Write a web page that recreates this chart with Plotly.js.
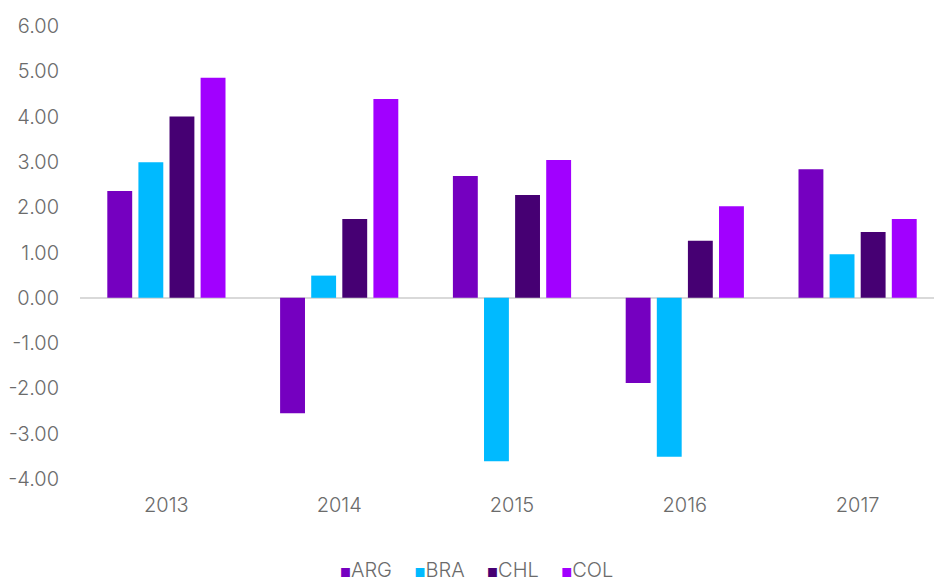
<!DOCTYPE html>
<html>
<head>
<meta charset="utf-8">
<script src="https://cdn.plot.ly/plotly-3.0.1.min.js"></script>
<style>html,body{margin:0;padding:0;overflow:hidden;background:#fff;}</style>
</head>
<body>
<div id="chart"></div>
<script>
const years = ['2013', '2014', '2015', '2016', '2017'];
const ARG = [2.36, -2.55, 2.69, -1.88, 2.84];
const BRA = [2.99, 0.49, -3.61, -3.51, 0.96];
const CHL = [4.00, 1.74, 2.27, 1.26, 1.45];
const COL = [4.86, 4.39, 3.04, 2.02, 1.74];
const tickVals = [-4, -3, -2, -1, 0, 1, 2, 3, 4, 5, 6];
const tickText = ['-4.00', '-3.00', '-2.00', '-1.00', '0.00', '1.00', '2.00', '3.00', '4.00', '5.00', '6.00'];

const series = [
  {name: 'ARG', y: ARG, color: '#7500C0'},
  {name: 'BRA', y: BRA, color: '#00BAFF'},
  {name: 'CHL', y: CHL, color: '#460073'},
  {name: 'COL', y: COL, color: '#A100FF'}
];
const traces = series.map(s => ({
  type: 'bar', name: s.name, x: years, y: s.y,
  marker: {color: s.color, line: {width: 0}},
  showlegend: false
}));
const fontFam = 'Inter, "Open Sans", sans-serif';
const txtColor = '#6b6b6b';
const legendText = series.map(s =>
  '<span style="color:' + s.color + ';font-size:12px">■</span>' + s.name
).join('&nbsp;&nbsp;&nbsp;&nbsp;');

const layout = {
  width: 944, height: 581,
  margin: {l: 80, r: 0, t: 26, b: 102},
  paper_bgcolor: '#ffffff', plot_bgcolor: '#ffffff',
  barmode: 'group', bargap: 0.28, bargroupgap: 0.2,
  font: {family: fontFam, size: 20, color: txtColor, weight: 300},
  xaxis: {
    type: 'category', showgrid: false, showline: false, zeroline: false,
    ticks: 'outside', ticklen: 8, tickcolor: 'rgba(0,0,0,0)',
    tickfont: {family: fontFam, size: 20, color: txtColor, weight: 300}
  },
  yaxis: {
    range: [-4, 6], tickmode: 'array', tickvals: tickVals, ticktext: tickText,
    showgrid: false, showline: false,
    zeroline: true, zerolinecolor: '#d9d9d9', zerolinewidth: 2,
    ticks: 'outside', ticklen: 16, tickcolor: 'rgba(0,0,0,0)',
    tickfont: {family: fontFam, size: 20, color: txtColor, weight: 300}
  },
  annotations: [{
    xref: 'paper', yref: 'paper',
    x: (476 - 80) / 864, y: -0.2, xanchor: 'center', yanchor: 'middle',
    text: legendText, showarrow: false,
    font: {family: fontFam, size: 20, color: txtColor, weight: 300}
  }],
  showlegend: false
};
Plotly.newPlot('chart', traces, layout, {displayModeBar: false, staticPlot: true});
</script>
</body>
</html>
